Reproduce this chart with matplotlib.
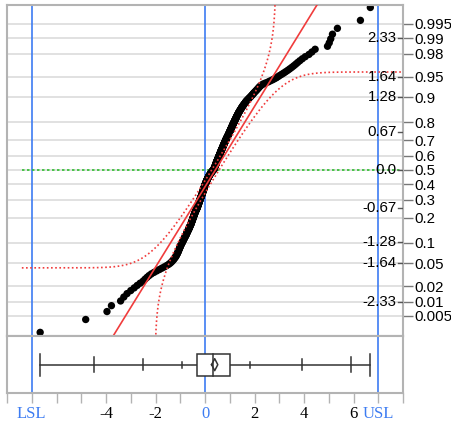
import numpy as np
import matplotlib.pyplot as plt
from statistics import NormalDist

plt.rcParams["font.family"] = ["Liberation Sans", "DejaVu Sans"]

values = [
    -6.66, -4.82, -3.96, -3.78, -3.41, -3.28, -3.15, -3.00, -2.86, -2.74,
    -2.62, -2.50, -2.42, -2.34, -2.26, -2.17, -2.06, -1.95, -1.84, -1.74,
    -1.64, -1.55, -1.47, -1.41, -1.36, -1.32, -1.28, -1.25, -1.22, -1.19,
    -1.17, -1.15, -1.13, -1.11, -1.10, -1.08, -1.07, -1.06, -1.04, -1.03,
    -1.02, -1.00, -0.99, -0.98, -0.97, -0.95, -0.94, -0.92, -0.91, -0.90,
    -0.88, -0.87, -0.86, -0.85, -0.83, -0.82, -0.81, -0.80, -0.78, -0.77,
    -0.76, -0.75, -0.74, -0.73, -0.72, -0.71, -0.70, -0.69, -0.68, -0.67,
    -0.66, -0.65, -0.64, -0.63, -0.62, -0.62, -0.61, -0.60, -0.59, -0.58,
    -0.57, -0.57, -0.56, -0.55, -0.55, -0.54, -0.53, -0.53, -0.52, -0.51,
    -0.51, -0.50, -0.50, -0.49, -0.48, -0.48, -0.47, -0.47, -0.46, -0.45,
    -0.45, -0.44, -0.44, -0.43, -0.42, -0.42, -0.41, -0.41, -0.40, -0.39,
    -0.39, -0.38, -0.37, -0.37, -0.36, -0.35, -0.35, -0.34, -0.33, -0.32,
    -0.32, -0.31, -0.31, -0.30, -0.30, -0.29, -0.29, -0.28, -0.28, -0.27,
    -0.27, -0.26, -0.26, -0.25, -0.25, -0.24, -0.24, -0.23, -0.23, -0.22,
    -0.22, -0.21, -0.21, -0.20, -0.20, -0.19, -0.19, -0.18, -0.18, -0.17,
    -0.17, -0.16, -0.16, -0.15, -0.15, -0.14, -0.14, -0.13, -0.13, -0.12,
    -0.12, -0.12, -0.11, -0.11, -0.10, -0.10, -0.09, -0.09, -0.08, -0.08,
    -0.08, -0.07, -0.07, -0.06, -0.06, -0.06, -0.05, -0.05, -0.04, -0.04,
    -0.04, -0.03, -0.03, -0.03, -0.02, -0.02, -0.01, -0.01, -0.01, 0.00,
    0.00, 0.01, 0.01, 0.02, 0.02, 0.03, 0.03, 0.04, 0.04, 0.05,
    0.05, 0.06, 0.06, 0.07, 0.07, 0.08, 0.08, 0.09, 0.09, 0.10,
    0.11, 0.11, 0.12, 0.12, 0.13, 0.14, 0.14, 0.15, 0.15, 0.16,
    0.17, 0.18, 0.18, 0.19, 0.20, 0.21, 0.21, 0.22, 0.23, 0.24,
    0.25, 0.26, 0.26, 0.27, 0.28, 0.29, 0.30, 0.31, 0.32, 0.33,
    0.35, 0.35, 0.36, 0.36, 0.37, 0.37, 0.38, 0.38, 0.39, 0.39,
    0.40, 0.40, 0.41, 0.41, 0.42, 0.42, 0.43, 0.43, 0.44, 0.44,
    0.44, 0.45, 0.45, 0.46, 0.46, 0.46, 0.47, 0.47, 0.48, 0.48,
    0.49, 0.49, 0.50, 0.50, 0.51, 0.51, 0.52, 0.52, 0.53, 0.53,
    0.54, 0.54, 0.55, 0.55, 0.56, 0.56, 0.57, 0.57, 0.58, 0.58,
    0.59, 0.59, 0.60, 0.60, 0.61, 0.61, 0.62, 0.62, 0.63, 0.63,
    0.64, 0.64, 0.65, 0.65, 0.66, 0.66, 0.67, 0.67, 0.68, 0.68,
    0.69, 0.70, 0.70, 0.71, 0.71, 0.72, 0.72, 0.73, 0.73, 0.74,
    0.75, 0.75, 0.76, 0.76, 0.77, 0.77, 0.78, 0.78, 0.79, 0.80,
    0.80, 0.81, 0.81, 0.82, 0.83, 0.83, 0.84, 0.84, 0.85, 0.86,
    0.86, 0.87, 0.88, 0.88, 0.89, 0.90, 0.90, 0.91, 0.92, 0.93,
    0.93, 0.94, 0.95, 0.95, 0.96, 0.97, 0.97, 0.98, 0.99, 0.99,
    1.00, 1.01, 1.01, 1.02, 1.03, 1.03, 1.04, 1.05, 1.05, 1.06,
    1.07, 1.08, 1.08, 1.09, 1.10, 1.10, 1.11, 1.12, 1.12, 1.13,
    1.14, 1.15, 1.16, 1.16, 1.17, 1.18, 1.19, 1.20, 1.20, 1.21,
    1.22, 1.23, 1.24, 1.25, 1.26, 1.26, 1.27, 1.28, 1.29, 1.30,
    1.31, 1.32, 1.33, 1.34, 1.35, 1.36, 1.37, 1.38, 1.40, 1.41,
    1.42, 1.43, 1.45, 1.46, 1.47, 1.49, 1.50, 1.51, 1.53, 1.55,
    1.56, 1.58, 1.60, 1.62, 1.63, 1.65, 1.67, 1.69, 1.72, 1.74,
    1.77, 1.79, 1.82, 1.85, 1.87, 1.90, 1.92, 1.95, 1.97, 2.00,
    2.03, 2.06, 2.09, 2.12, 2.15, 2.18, 2.21, 2.25, 2.30, 2.36,
    2.45, 2.55, 2.63, 2.72, 2.80, 2.88, 2.95, 3.02, 3.10, 3.18,
    3.26, 3.34, 3.42, 3.50, 3.58, 3.66, 3.74, 3.83, 3.93, 4.05,
    4.20, 4.32, 4.45, 4.95, 5.02, 5.08, 5.15, 5.35, 6.28, 6.68,
]

prob_ticks = [0.005, 0.01, 0.02, 0.05, 0.1, 0.2, 0.3, 0.4, 0.5,
              0.6, 0.7, 0.8, 0.9, 0.95, 0.98, 0.99, 0.995]
prob_labels = ['0.005', '0.01', '0.02', '0.05', '0.1', '0.2', '0.3', '0.4', '0.5',
               '0.6', '0.7', '0.8', '0.9', '0.95', '0.98', '0.99', '0.995']
quant_ticks = [-2.33, -1.64, -1.28, -0.67, 0.0, 0.67, 1.28, 1.64, 2.33]
quant_labels = ['-2.33', '-1.64', '-1.28', '-0.67', '0.0', '0.67', '1.28', '1.64', '2.33']

x_ticks = [-7, -4, -2, 0, 2, 4, 6, 7]
x_tick_labels = ['LSL', '-4', '-2', '0', '2', '4', '6', 'USL']
spec_lines = [-7, 0, 7]

fit_mean = 0.42
fit_sd = 1.41
band_d = 0.042      # Lilliefors band half width (probability)
band_start = -7.4

nd = NormalDist()
frame = '#b3b3b3'
blue = '#3d7cf2'
red = '#f03c3c'

data = np.sort(np.array(values))
n = len(data)
zq = np.array([nd.inv_cdf(i / (n + 1)) for i in range(1, n + 1)])

fig = plt.figure(figsize=(4.51, 4.21), dpi=100)
W, H = 451, 421
ax = fig.add_axes([7 / W, 1 - 336 / H, 396 / W, 331 / H])
axb = fig.add_axes([7 / W, 1 - 393 / H, 396 / W, 57 / H])

for a in (ax, axb):
    a.set_xlim(-8, 8)
    for s in a.spines.values():
        s.set_color(frame)
        s.set_linewidth(1.5)
    for v in spec_lines:
        a.axvline(v, color=blue, lw=1.2, zorder=1.5)

# main quantile plot
ax.set_ylim(-2.93, 2.91)
zt = [nd.inv_cdf(p) for p in prob_ticks]
ax.set_yticks(zt)
ax.set_yticklabels(prob_labels)
ax.tick_params(axis='y', left=False, right=True, labelleft=False, labelright=True,
               length=7, width=1, color='#777777', labelsize=10.8, pad=1)
ax.tick_params(axis='x', bottom=False, labelbottom=False)
ax.grid(axis='y', color='#dedede', lw=1.3)
ax.set_axisbelow(True)

ax.plot([band_start, 8], [0, 0], color='#2fbf2f', lw=1.2, ls=(0, (1.5, 1.5)), zorder=1.6)

ax.scatter(data, zq, s=28, color='black', edgecolors='none', zorder=2)

xs = np.array([-8, 8])
ax.plot(xs, (xs - fit_mean) / fit_sd, color=red, lw=1.2, zorder=3)

xb = np.linspace(band_start, 8, 4000)
pb = np.array([nd.cdf((v - fit_mean) / fit_sd) for v in xb])
up = np.array([nd.inv_cdf(p + band_d) if p + band_d < 1 else np.nan for p in pb])
lo = np.array([nd.inv_cdf(p - band_d) if p - band_d > 0 else np.nan for p in pb])
ax.plot(xb, up, color=red, lw=1.2, ls=(0, (1, 1.5)), zorder=3)
ax.plot(xb, lo, color=red, lw=1.2, ls=(0, (1, 1.5)), zorder=3)

ytr = ax.get_yaxis_transform()
for q, lab in zip(quant_ticks, quant_labels):
    ax.text(0.984, q, lab, transform=ytr, ha='right', va='center', fontsize=10.8, zorder=4)
    ax.plot([0.988, 1.0], [q, q], transform=ytr, color='#555555', lw=1, zorder=4)

# quantile box plot
axb.set_ylim(0, 1)
axb.set_yticks([])
qs = np.percentile(data, [0.5, 2.5, 10, 25, 50, 75, 90, 97.5, 99.5], method='weibull')
yc, bh = 0.497, 0.193
lc = '#333333'
axb.plot([data[0], data[-1]], [yc, yc], color=lc, lw=1.1)
for v in (data[0], data[-1]):
    axb.plot([v, v], [yc - bh, yc + bh], color=lc, lw=1.1)
for v, h in zip([qs[0], qs[1], qs[2], qs[6], qs[7], qs[8]], [0.13, 0.094, 0.05, 0.05, 0.094, 0.13]):
    axb.plot([v, v], [yc - h, yc + h], color=lc, lw=1.1)
axb.add_patch(plt.Rectangle((qs[3], yc - bh), qs[5] - qs[3], 2 * bh,
                            facecolor='white', edgecolor=lc, lw=1.1, zorder=3))
axb.plot([qs[4], qs[4]], [yc - bh, yc + bh], color=lc, lw=1.1, zorder=4)
m = data.mean()
ci = 1.96 * data.std(ddof=1) / np.sqrt(n)
axb.plot([m - ci, m, m + ci, m, m - ci], [yc, yc + 0.105, yc, yc - 0.105, yc],
         color=lc, lw=1.1, zorder=4)

axb.set_xticks(range(-8, 9), minor=True)
axb.set_xticks(x_ticks)
axb.set_xticklabels(x_tick_labels, family='Liberation Serif', fontsize=12)
axb.tick_params(axis='x', which='both', length=7, width=1, color=frame, pad=2)
for t in axb.get_xticklabels():
    if t.get_text() in ('LSL', '0', 'USL'):
        t.set_color(blue)

fig.savefig('out.png', dpi=100)
